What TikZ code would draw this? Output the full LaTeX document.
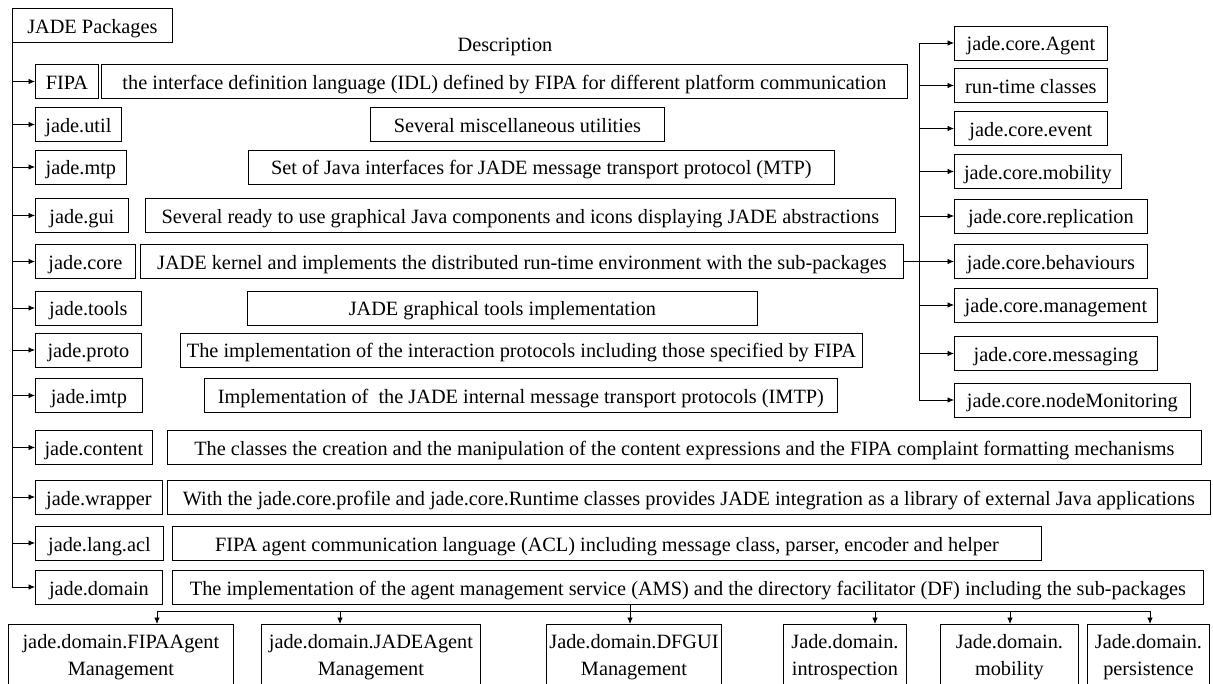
\documentclass[tikz,border=0pt]{standalone}
\usepackage{fontspec}
\setmainfont{Liberation Serif}
\usetikzlibrary{arrows.meta,positioning}
\tikzset{
  pkgbox/.style={
    draw=black,
    line width=0.8pt,
    anchor=west,
    minimum height=34pt,
    text height=17pt,
    text depth=1pt,
    inner sep=3pt
  },
  descbox/.style={
    draw=black,
    line width=0.8pt,
    anchor=west,
    minimum height=34pt,
    text height=17pt,
    text depth=1pt,
    inner sep=3pt
  },
  subbox/.style={
    draw=black,
    line width=0.8pt,
    anchor=west,
    minimum height=34pt,
    text height=17pt,
    text depth=1pt,
    inner sep=3pt
  },
  domainbox/.style={
    draw=black,
    line width=0.8pt,
    anchor=north west,
    align=center,
    minimum height=90pt,
    text depth=28pt,
    inner sep=3pt,
    font=\fontsize{20.3}{27}\selectfont
  },
  flowarrow/.style={
    -{Latex[length=6.5pt,width=5.5pt]},
    line width=0.8pt
  },
  busline/.style={
    line width=0.8pt
  }
}

\begin{document}
\begin{tikzpicture}[x=1pt,y=-1pt,font=\fontsize{20.3}{26}\selectfont]
  \useasboundingbox (0,0) rectangle (1213,684);
  \clip (0,0) rectangle (1213,684);

  \node[pkgbox, anchor=north west, minimum width=160pt] (pkgs) at (12,8) {JADE Packages};
  \node (desclabel) at (505,47) {Description};

  \node[pkgbox, minimum width=63pt] (fipa) at (35,81.5) {FIPA};
  \node[descbox, minimum width=806pt] (fipadesc) at (101,81.5) {the interface definition language (IDL) defined by FIPA for different platform communication};
  \node[pkgbox, minimum width=86pt] (util) at (35,124.5) {jade.util};
  \node[descbox, minimum width=294pt] (utildesc) at (370,124.5) {Several miscellaneous utilities};
  \node[pkgbox, minimum width=91pt] (mtp) at (35,167) {jade.mtp};
  \node[descbox, minimum width=586pt] (mtpdesc) at (248,167) {Set of Java interfaces for JADE message transport protocol (MTP)};
  \node[pkgbox, minimum width=93pt] (gui) at (35,215.5) {jade.gui};
  \node[descbox, minimum width=750pt] (guidesc) at (145,215.5) {Several ready to use graphical Java components and icons displaying JADE abstractions};
  \node[pkgbox, minimum width=100pt] (core) at (35,261.5) {jade.core};
  \node[descbox, minimum width=763pt] (coredesc) at (140,261.5) {JADE kernel and implements the distributed run-time environment with the sub-packages};
  \node[pkgbox, minimum width=106pt] (tools) at (35,308) {jade.tools};
  \node[descbox, minimum width=510pt] (toolsdesc) at (247,308) {JADE graphical tools implementation};
  \node[pkgbox, minimum width=106pt] (proto) at (35,350) {jade.proto};
  \node[descbox, minimum width=682pt] (protodesc) at (180,350) {The implementation of the interaction protocols including those specified by FIPA};
  \node[pkgbox, minimum width=107pt] (imtp) at (35,395.5) {jade.imtp};
  \node[descbox, minimum width=633pt] (imtpdesc) at (204,395.5) {Implementation of\ \ the JADE internal message transport protocols (IMTP)};
  \node[pkgbox, minimum width=117pt] (content) at (35,447.5) {jade.content};
  \node[descbox, minimum width=1034pt] (contentdesc) at (167,447.5) {The classes the creation and the manipulation of the content expressions and the FIPA complaint formatting mechanisms};
  \node[pkgbox, minimum width=127pt] (wrapper) at (35,497) {jade.wrapper};
  \node[descbox, minimum width=1043pt] (wrapperdesc) at (167,497) {With the jade.core.profile and jade.core.Runtime classes provides JADE integration as a library of external Java applications};
  \node[pkgbox, minimum width=128pt] (langacl) at (35,543) {jade.lang.acl};
  \node[descbox, minimum width=869pt] (langacldesc) at (172,543) {FIPA agent communication language (ACL) including message class, parser, encoder and helper};
  \node[pkgbox, minimum width=127pt] (domain) at (35,587) {jade.domain};
  \node[descbox, minimum width=1031pt] (domaindesc) at (172,587) {The implementation of the agent management service (AMS) and the directory facilitator (DF) including the sub-packages};

  \node[subbox, minimum width=153pt] (agent) at (954,43) {jade.core.Agent};
  \node[subbox, minimum width=153pt] (runtime) at (954,85.5) {run-time classes};
  \node[subbox, minimum width=153pt] (event) at (954,128.5) {jade.core.event};
  \node[subbox, minimum width=167pt] (mobility) at (954,171.5) {jade.core.mobility};
  \node[subbox, minimum width=193pt] (replication) at (954,216) {jade.core.replication};
  \node[subbox, minimum width=193pt] (behaviours) at (954,261.5) {jade.core.behaviours};
  \node[subbox, minimum width=203pt] (management) at (954,305) {jade.core.management};
  \node[subbox, minimum width=203pt] (messaging) at (954,353.5) {jade.core.messaging};
  \node[subbox, minimum width=236pt] (nodemon) at (954,400) {jade.core.nodeMonitoring};

  \node[domainbox, minimum width=225pt] (fipaagent) at (8,624) {jade.domain.FIPAAgent\\Management};
  \node[domainbox, minimum width=219pt] (jadeagent) at (261,624) {jade.domain.JADEAgent\\Management};
  \node[domainbox, minimum width=138pt] (dfgui) at (546,624) {Jade.domain.DFGUI\\Management};
  \node[domainbox, minimum width=123pt] (introspection) at (783,624) {Jade.domain.\\introspection};
  \node[domainbox, minimum width=138pt] (dmobility) at (940,624) {Jade.domain.\\mobility};
  \node[domainbox, minimum width=122pt] (persistence) at (1087,624) {Jade.domain.\\persistence};

  \coordinate (rbus) at (919,0);
  \coordinate (dbus) at (630,611);
  \coordinate (bfipa) at (157,611);
  \coordinate (bjade) at (340,611);
  \coordinate (bintro) at (875,611);
  \coordinate (bmob) at (1010,611);
  \coordinate (bpers) at (1150,611);

  \draw[busline] (pkgs.south west) -- (pkgs.south west |- domain.west);
  \draw[flowarrow] (pkgs.south west |- fipa.west) -- (fipa.west);
  \draw[flowarrow] (pkgs.south west |- util.west) -- (util.west);
  \draw[flowarrow] (pkgs.south west |- mtp.west) -- (mtp.west);
  \draw[flowarrow] (pkgs.south west |- gui.west) -- (gui.west);
  \draw[flowarrow] (pkgs.south west |- core.west) -- (core.west);
  \draw[flowarrow] (pkgs.south west |- tools.west) -- (tools.west);
  \draw[flowarrow] (pkgs.south west |- proto.west) -- (proto.west);
  \draw[flowarrow] (pkgs.south west |- imtp.west) -- (imtp.west);
  \draw[flowarrow] (pkgs.south west |- content.west) -- (content.west);
  \draw[flowarrow] (pkgs.south west |- wrapper.west) -- (wrapper.west);
  \draw[flowarrow] (pkgs.south west |- langacl.west) -- (langacl.west);
  \draw[flowarrow] (pkgs.south west |- domain.west) -- (domain.west);

  \draw[busline] (rbus |- agent.west) -- (rbus |- nodemon.west);
  \draw[flowarrow] (coredesc.east) -- (behaviours.west);
  \draw[flowarrow] (rbus |- agent.west) -- (agent.west);
  \draw[flowarrow] (rbus |- runtime.west) -- (runtime.west);
  \draw[flowarrow] (rbus |- event.west) -- (event.west);
  \draw[flowarrow] (rbus |- mobility.west) -- (mobility.west);
  \draw[flowarrow] (rbus |- replication.west) -- (replication.west);
  \draw[flowarrow] (rbus |- management.west) -- (management.west);
  \draw[flowarrow] (rbus |- messaging.west) -- (messaging.west);
  \draw[flowarrow] (rbus |- nodemon.west) -- (nodemon.west);

  \draw[busline] (bfipa) -- (bpers);
  \draw[busline] (domaindesc.south -| dbus) -- (dbus);
  \draw[flowarrow] (bfipa) -- (bfipa |- fipaagent.north);
  \draw[flowarrow] (bjade) -- (bjade |- jadeagent.north);
  \draw[flowarrow] (dbus) -- (dbus |- dfgui.north);
  \draw[flowarrow] (bintro) -- (bintro |- introspection.north);
  \draw[flowarrow] (bmob) -- (bmob |- dmobility.north);
  \draw[flowarrow] (bpers) -- (bpers |- persistence.north);
\end{tikzpicture}
\end{document}
